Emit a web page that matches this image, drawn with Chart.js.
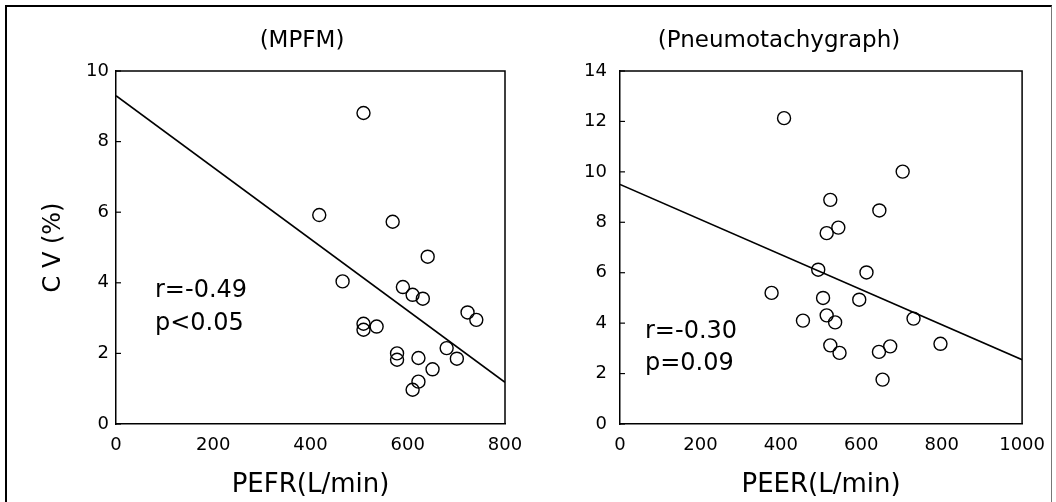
<!DOCTYPE html>
<html><head><meta charset="utf-8">
<script src="https://cdn.jsdelivr.net/npm/chart.js@4"></script>
<style>
html,body{margin:0;padding:0;background:#fff;}
#wrap{position:relative;width:1056px;height:502px;overflow:hidden;background:#fff;}
canvas{position:absolute;left:0;top:0;}
#frame{position:absolute;left:5px;top:5px;width:1044px;height:600px;border-left:2px solid #000;border-top:2px solid #000;border-right:1px solid #777;}
</style></head><body>
<div id="wrap"><div id="frame"></div><canvas id="c1" width="1056" height="502"></canvas><canvas id="c2" width="1056" height="502"></canvas></div>
<script>
// ---- data: MPFM panel ----
const mpfmPefr = [509,418,569,466,641,590,610,631,723,741,509,509,536,578,578,622,680,701,651,622,610];
const mpfmCv   = [8.81,5.92,5.73,4.04,4.74,3.88,3.66,3.55,3.16,2.95,2.84,2.67,2.76,2.0,1.82,1.87,2.15,1.85,1.55,1.2,0.97];
const mpfmFitX = [0, 800];
const mpfmFitY = [9.3, 1.18];
const mpfmNotes = ['r=-0.49', 'p<0.05'];
// ---- data: Pneumotachygraph panel ----
const pneuPeer = [408,703,523,645,543,514,493,613,377,505,595,455,514,535,730,523,546,644,672,653,797];
const pneuCv   = [12.13,10.01,8.89,8.47,7.79,7.57,6.12,6.01,5.2,5.0,4.93,4.10,4.31,4.03,4.18,3.12,2.82,2.86,3.08,1.76,3.18];
const pneuFitX = [0, 1000];
const pneuFitY = [9.5, 2.55];
const pneuNotes = ['r=-0.30', 'p=0.09'];
// ---- axis labels ----
const titles = ['(MPFM)', '(Pneumotachygraph)'];
const xTitles = ['PEFR(L/min)', 'PEER(L/min)'];
const yTitle = 'C V (%)';

Chart.defaults.font.family = "'DejaVu Sans', sans-serif";
Chart.defaults.color = '#000';

function decor(cfg) {
  return {
    id: 'decor',
    afterDraw(chart) {
      const {ctx, chartArea: a, scales} = chart;
      ctx.save();
      ctx.strokeStyle = '#000';
      ctx.lineWidth = 1.5;
      ctx.beginPath();
      ctx.moveTo(a.left, a.top); ctx.lineTo(a.right, a.top); ctx.lineTo(a.right, a.bottom);
      ctx.stroke();
      ctx.lineWidth = 1.2;
      scales.y.ticks.forEach(t => {
        const y = scales.y.getPixelForValue(t.value);
        ctx.beginPath(); ctx.moveTo(a.left, y); ctx.lineTo(a.left + 5, y); ctx.stroke();
      });
      ctx.fillStyle = '#000';
      ctx.font = "23px 'DejaVu Sans'";
      ctx.textAlign = 'center'; ctx.textBaseline = 'alphabetic';
      ctx.fillText(cfg.title, cfg.titleX, 47);
      ctx.font = "24px 'DejaVu Sans'";
      ctx.textAlign = 'left';
      cfg.notes.forEach((n, i) => ctx.fillText(n, cfg.noteX, cfg.noteY[i]));
      ctx.restore();
    }
  };
}

function makeChart(id, xs, ys, fx, fy, cfg) {
  const pts = xs.map((x, i) => ({x, y: ys[i]}));
  const line = fx.map((x, i) => ({x, y: fy[i]}));
  new Chart(document.getElementById(id), {
    type: 'scatter',
    data: {datasets: [
      {data: pts, pointRadius: 6.5, pointHoverRadius: 6.5, pointBorderColor: '#000',
       pointBackgroundColor: 'rgba(0,0,0,0)', pointBorderWidth: 1.4, showLine: false},
      {type: 'line', data: line, borderColor: '#000', borderWidth: 1.6, pointRadius: 0, fill: false, tension: 0}
    ]},
    options: {
      responsive: false, animation: false, devicePixelRatio: 1,
      layout: {padding: {left: cfg.padL, right: cfg.padR, top: 71, bottom: 0}},
      plugins: {legend: {display: false}, tooltip: {enabled: false}},
      scales: {
        x: {type: 'linear', min: 0, max: cfg.xMax,
            afterFit(s) { s.height = 78; },
            ticks: {stepSize: cfg.xStep, color: '#000', font: {size: 18}, padding: 11, maxRotation: 0,
                    callback: v => String(v)},
            grid: {display: false, drawTicks: false},
            border: {display: true, color: '#000', width: 1.5},
            title: {display: true, text: cfg.xTitle, color: '#000', font: {size: 26, lineHeight: 1}, padding: {top: 0, bottom: 4}}},
        y: {type: 'linear', min: 0, max: cfg.yMax,
            afterFit(s) { s.width = cfg.yW; },
            ticks: {stepSize: 2, color: '#000', font: {size: 18}, padding: cfg.yPad, callback: v => String(v)},
            grid: {display: false, drawTicks: false},
            border: {display: true, color: '#000', width: 1.5},
            title: cfg.yTitle ? {display: true, text: cfg.yTitle, color: '#000', font: {size: 24}, padding: {top: 4, bottom: 4}} : {display: false}}
      }
    },
    plugins: [decor(cfg)]
  });
}

makeChart('c1', mpfmPefr, mpfmCv, mpfmFitX, mpfmFitY, {
  padL: 35, padR: 551, yW: 81, yPad: 7, xMax: 800, xStep: 200, yMax: 10,
  xTitle: xTitles[0], yTitle: yTitle, title: titles[0], titleX: 302,
  notes: mpfmNotes, noteX: 155, noteY: [297, 330]
});
makeChart('c2', pneuPeer, pneuCv, pneuFitX, pneuFitY, {
  padL: 540, padR: 33, yW: 80, yPad: 13, xMax: 1000, xStep: 200, yMax: 14,
  xTitle: xTitles[1], yTitle: null, title: titles[1], titleX: 779,
  notes: pneuNotes, noteX: 645, noteY: [338, 370]
});
</script>
</body></html>
